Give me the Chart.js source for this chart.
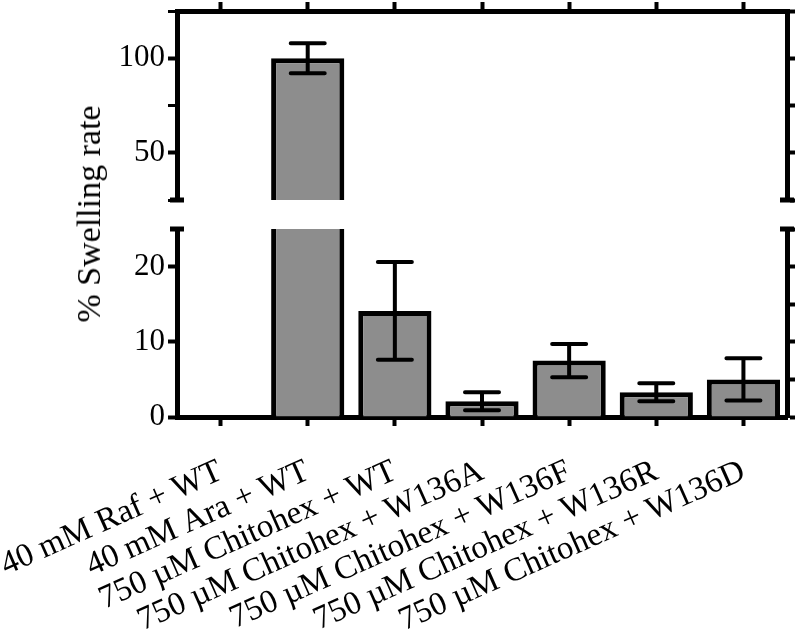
<!DOCTYPE html>
<html>
<head>
<meta charset="utf-8">
<script src="https://cdn.jsdelivr.net/npm/chart.js@4"></script>
<style>
  html, body { margin: 0; padding: 0; background: #fff; }
  #wrap { position: relative; width: 800px; height: 637px; overflow: hidden; }
  canvas { position: absolute; left: 0; }
  #topChart { top: 0; }
  #bottomChart { top: 206px; }
  #yTitle {
    position: absolute; left: 89px; top: 214px;
    transform: translate(-50%, -50%) rotate(-90deg);
    font: 34px "Liberation Serif", serif; white-space: nowrap; color: #000;
  }
</style>
</head>
<body>
<div id="wrap">
  <canvas id="topChart" width="800" height="206"></canvas>
  <canvas id="bottomChart" width="800" height="431"></canvas>
  <div id="yTitle">% Swelling rate</div>
</div>
<script>
// data
const categories = ["40 mM Raf + WT", "40 mM Ara + WT", "750 µM Chitohex + WT", "750 µM Chitohex + W136A",
  "750 µM Chitohex + W136F", "750 µM Chitohex + W136R", "750 µM Chitohex + W136D"];
const swelling = [0, 100, 14.1, 2.1, 7.5, 3.3, 5.0];
const swellingErr = [0, 8, 6.5, 1.2, 2.2, 1.2, 2.8];
const upperRange = [25, 125];
const lowerRange = [0, 25];
const upperTicks = [50, 100];
const lowerTicks = [0, 10, 20];

const serif = "'Liberation Serif', 'Times New Roman', serif";

// error bars, clipped to each half of the broken axis
const errorBars = {
  id: "errorBars",
  afterDatasetsDraw(chart) {
    const ctx = chart.ctx, a = chart.chartArea, y = chart.scales.y;
    const meta = chart.getDatasetMeta(0);
    ctx.save();
    ctx.beginPath();
    ctx.rect(a.left, a.top, a.right - a.left, a.bottom - a.top);
    ctx.clip();
    ctx.strokeStyle = "#000";
    ctx.lineWidth = 4;
    ctx.lineCap = "round";
    meta.data.forEach((bar, i) => {
      const e = swellingErr[i];
      if (!e) return;
      const hi = y.getPixelForValue(swelling[i] + e);
      const lo = y.getPixelForValue(swelling[i] - e);
      ctx.beginPath();
      ctx.moveTo(bar.x, hi); ctx.lineTo(bar.x, lo);
      ctx.moveTo(bar.x - 17, hi); ctx.lineTo(bar.x + 17, hi);
      ctx.moveTo(bar.x - 17, lo); ctx.lineTo(bar.x + 17, lo);
      ctx.stroke();
    });
    ctx.restore();
  }
};

// small caps where the y axes are cut
const breakCaps = {
  id: "breakCaps",
  afterDraw(chart, args, opts) {
    const a = chart.chartArea, ctx = chart.ctx;
    const yy = opts.edge === "bottom" ? a.bottom : a.top;
    ctx.save();
    ctx.strokeStyle = "#000";
    ctx.lineWidth = 5;
    [a.left, a.right].forEach(x => {
      ctx.beginPath();
      ctx.moveTo(x - 7, yy); ctx.lineTo(x + 7, yy);
      ctx.stroke();
    });
    ctx.restore();
  }
};

// fixed box sizes so both halves line up
function fixSize(prop, size) {
  return s => {
    s[prop] = size;
    s.paddingLeft = s.paddingRight = s.paddingTop = s.paddingBottom = 0;
  };
}

function makeChart(id, range, shown, step, isTop) {
  const border = { color: "#000", width: 5 };
  return new Chart(document.getElementById(id), {
    type: "bar",
    data: {
      labels: categories,
      datasets: [{
        data: swelling,
        backgroundColor: "#8d8d8d",
        borderColor: "#000",
        borderWidth: 5,
        barPercentage: 0.84,
        categoryPercentage: 1,
        clip: 0
      }]
    },
    options: {
      responsive: false,
      animation: false,
      layout: { autoPadding: false, padding: isTop ? { bottom: 6 } : { top: 23 } },
      plugins: {
        legend: { display: false },
        tooltip: { enabled: false },
        breakCaps: { edge: isTop ? "bottom" : "top" }
      },
      scales: {
        x: {
          position: isTop ? "top" : "bottom",
          grid: { offset: false, drawOnChartArea: false, tickLength: 9, tickWidth: 4, tickColor: "#000" },
          border: border,
          ticks: {
            display: !isTop, autoSkip: false, minRotation: 24, maxRotation: 24, padding: 26,
            color: "#000", font: { family: serif, size: 33 }
          },
          afterFit: fixSize("height", isTop ? 11 : 220)
        },
        y: {
          min: range[0], max: range[1],
          ticks: {
            stepSize: step, padding: 3, color: "#000", font: { family: serif, size: 31 },
            callback: v => shown.includes(v) ? v : ""
          },
          grid: {
            drawOnChartArea: false, tickLength: 9, tickColor: "#000",
            tickWidth: c => (c.tick && shown.includes(c.tick.value)) ? 4 : 3
          },
          border: border,
          afterFit: fixSize("width", 177)
        },
        y2: {
          position: "right",
          min: range[0], max: range[1],
          ticks: { display: false, stepSize: step },
          grid: { drawOnChartArea: false, tickLength: 8, tickWidth: 4, tickColor: "#000" },
          border: border,
          afterFit: fixSize("width", 13)
        }
      }
    },
    plugins: [errorBars, breakCaps]
  });
}

makeChart("topChart", upperRange, upperTicks, 25, true);
makeChart("bottomChart", lowerRange, lowerTicks, 5, false);
</script>
</body>
</html>
